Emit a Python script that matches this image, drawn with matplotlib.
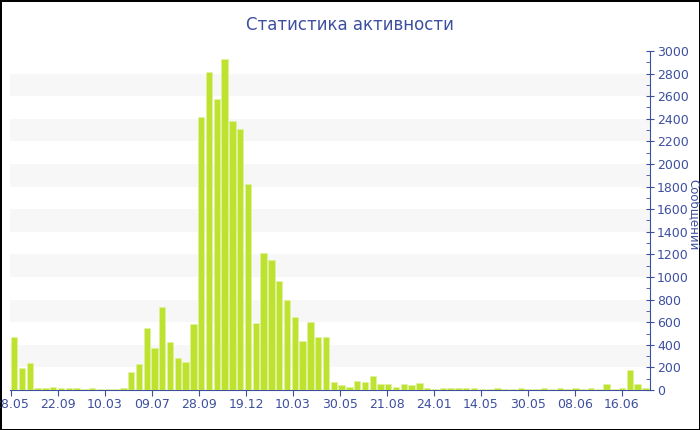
import numpy as np
import matplotlib
matplotlib.use("Agg")
import matplotlib.pyplot as plt
from matplotlib.ticker import MultipleLocator

# messages per period
messages = [
    470, 197, 242, 20, 20, 27, 15, 15, 20, 12,
    15, 10, 10, 10, 15, 157, 233, 551, 375, 732,
    422, 283, 248, 584, 2413, 2811, 2575, 2932, 2381, 2307,
    1823, 596, 1210, 1148, 962, 796, 646, 431, 605, 469,
    472, 68, 47, 27, 77, 71, 127, 53, 50, 27,
    53, 41, 59, 18, 12, 18, 15, 20, 20, 15,
    12, 12, 15, 12, 12, 15, 10, 12, 15, 12,
    20, 12, 22, 12, 15, 12, 56, 12, 15, 174,
    50, 15,
]
tick_labels = ["28.05", "22.09", "10.03", "09.07", "28.09", "19.12", "10.03",
               "30.05", "21.08", "24.01", "14.05", "30.05", "08.06", "16.06"]

title = "Статистика активности"
ylabel = "Сообщений"

blue = '#3d4f9f'
bar_color = '#bde22f'
band_color = '#f7f7f7'

fig = plt.figure(figsize=(7, 4.3), dpi=100)
fig.patch.set_facecolor('white')
fig.patch.set_edgecolor('black')
fig.patch.set_linewidth(2)

ax = fig.add_axes([10 / 700, 1 - 390 / 430, 640 / 700, (390 - 51) / 430])

x = np.arange(len(messages))
ax.bar(x, messages, width=0.82, color=bar_color, edgecolor='#e2f3a0',
       linewidth=0.4, zorder=3)

# alternating light bands
for lo in range(200, 2800, 400):
    ax.axhspan(lo, lo + 200, color=band_color, zorder=0, lw=0)

ax.set_xlim(-0.54, len(messages) - 0.42)
ax.set_ylim(0, 3000)

ax.yaxis.tick_right()
ax.yaxis.set_major_locator(MultipleLocator(200))
ax.yaxis.set_minor_locator(MultipleLocator(100))
ax.tick_params(axis='y', which='major', direction='inout', length=6,
               color=blue, labelcolor=blue, labelsize=9, pad=2)
ax.tick_params(axis='y', which='minor', direction='in', length=3, color=blue)

step = 6.03
ticks = -0.41 + step * np.arange(len(tick_labels))
ax.set_xticks(ticks)
ax.set_xticklabels(tick_labels)
ax.tick_params(axis='x', direction='out', length=4, color=blue,
               labelcolor=blue, labelsize=9, pad=2)

for side in ['top', 'left']:
    ax.spines[side].set_visible(False)
ax.spines['bottom'].set_color(blue)
ax.spines['right'].set_color(blue)

fig.text(0.5, 1 - 25 / 430, title, ha='center', va='center',
         color=blue, fontsize=12)
fig.text(0.9915, 1 - 215 / 430, ylabel, ha='center', va='center',
         rotation=270, color=blue, fontsize=8.5)

fig.savefig('out.png', dpi=100, facecolor=fig.get_facecolor(),
            edgecolor=fig.get_edgecolor())
